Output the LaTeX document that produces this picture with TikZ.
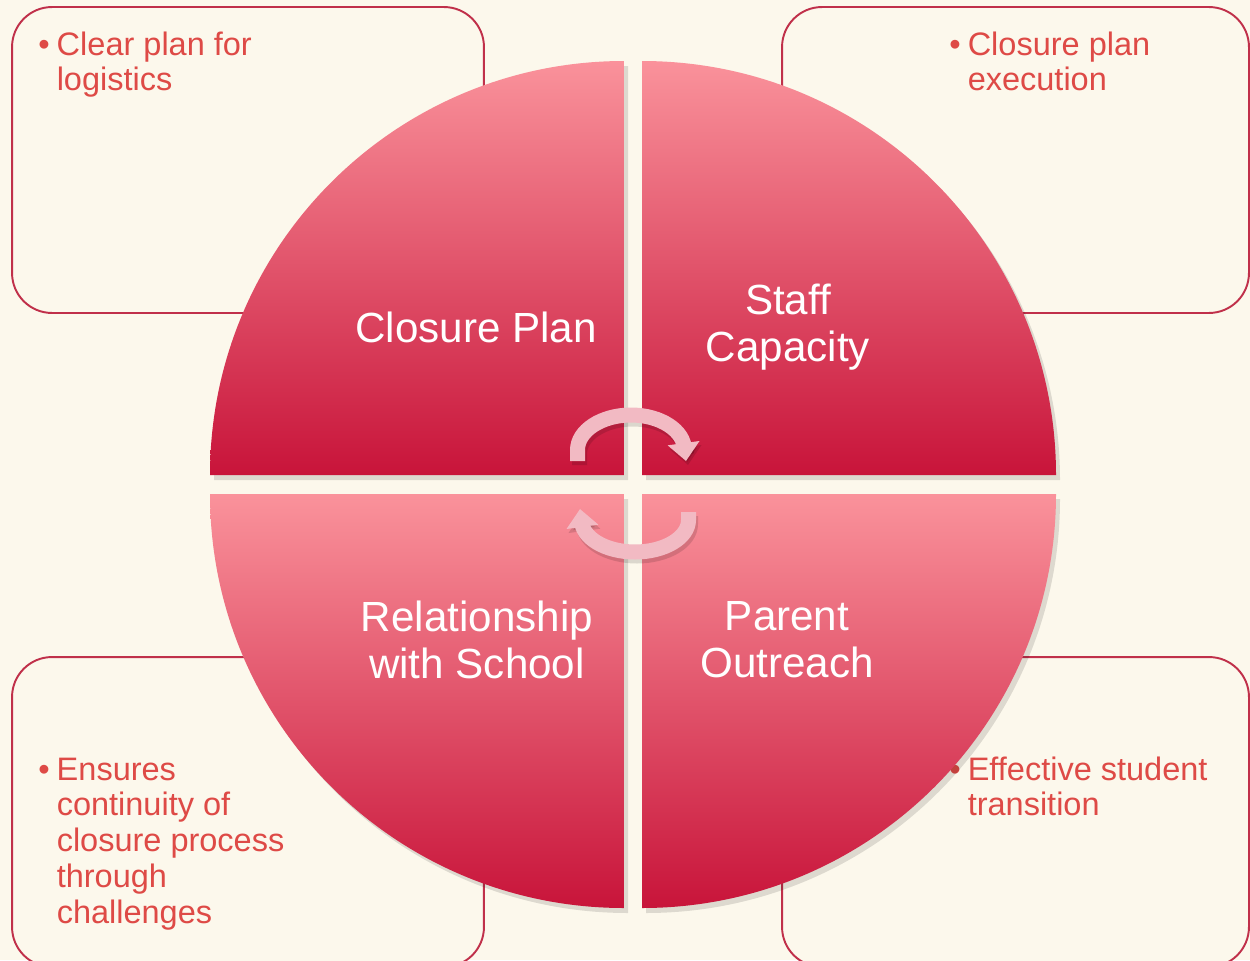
\documentclass[tikz,border=0pt]{standalone}
\usepackage{fontspec}
\setmainfont{Liberation Sans}
\usetikzlibrary{arrows.meta}
\definecolor{cream}{HTML}{FCF8EC}
\definecolor{boxline}{HTML}{C0304A}
\definecolor{notetext}{HTML}{DE4A46}
\definecolor{pietop}{HTML}{FA929B}
\definecolor{piebot}{HTML}{C8143A}
\definecolor{turncol}{HTML}{F2BAC3}

\begin{document}
\begin{tikzpicture}[x=0.02cm,y=-0.02cm,
	notebox/.style={draw=boxline,line width=1.1pt,fill=cream,rounded corners=0.8cm,inner sep=0pt},
	quarter/.style={top color=pietop,bottom color=piebot},
	piecaption/.style={text=white,align=center,font=\fontsize{24}{26.6}\selectfont},
	bulletnote/.style={text=notetext,anchor=base west,inner sep=0pt,font=\fontsize{18.5}{20.4}\selectfont},
	turnarrow/.style={line width=0.3cm,draw=turncol,-{Triangle[width=0.62cm,length=0.36cm]}},
	turnshadow/.style={turnarrow,draw=black,opacity=.13,shift={(2,4)}}]
	\useasboundingbox (0,0) rectangle (1250,960);
	\clip (0,0) rectangle (1250,960);
	\fill[cream] (0,0) rectangle (1250,960);
	% the four note boxes
	\node[notebox,minimum width=9.44cm,minimum height=6.12cm] (tlbox) at (248,160) {};
	\node[notebox,minimum width=9.34cm,minimum height=6.12cm] (trbox) at (1015.5,160) {};
	\node[notebox,minimum width=9.44cm,minimum height=6.2cm] (blbox) at (248,812) {};
	\node[notebox,minimum width=9.34cm,minimum height=6.2cm] (brbox) at (1015.5,812) {};
	\node[bulletnote] (tlnote) at (38,55) {\begin{tabular}[t]{@{}l@{\hspace{4pt}}l@{}}\textbullet & Clear plan for\\ & logistics\end{tabular}};
	\node[bulletnote] (trnote) at (949,55) {\begin{tabular}[t]{@{}l@{\hspace{4pt}}l@{}}\textbullet & Closure plan\\ & execution\end{tabular}};
	\node[bulletnote] (blnote) at (38,780) {\begin{tabular}[t]{@{}l@{\hspace{4pt}}l@{}}\textbullet & Ensures\\ & continuity of\\ & closure process\\ & through\\ & challenges\end{tabular}};
	\node[bulletnote] (brnote) at (949,780) {\begin{tabular}[t]{@{}l@{\hspace{4pt}}l@{}}\textbullet & Effective student\\ & transition\end{tabular}};
	% shadows of the pie
	\begin{scope}[shift={(4,5)}]
	\fill[black,opacity=.12] (624,475) -- (210,475) arc[start angle=180,end angle=270,radius=414] -- cycle;
	\fill[black,opacity=.12] (642,475) -- (642,61) arc[start angle=270,end angle=360,radius=414] -- cycle;
	\fill[black,opacity=.12] (624,494) -- (624,908) arc[start angle=90,end angle=180,radius=414] -- cycle;
	\fill[black,opacity=.12] (642,494) -- (1056,494) arc[start angle=0,end angle=90,radius=414] -- cycle;
	\end{scope}
	% the pie
	\shade[quarter] (624,475) -- (210,475) arc[start angle=180,end angle=270,radius=414] -- cycle;
	\shade[quarter] (642,475) -- (642,61) arc[start angle=270,end angle=360,radius=414] -- cycle;
	\shade[quarter] (624,494) -- (624,908) arc[start angle=90,end angle=180,radius=414] -- cycle;
	\shade[quarter] (642,494) -- (1056,494) arc[start angle=0,end angle=90,radius=414] -- cycle;
	\node[piecaption] (plan) at (476,327) {Closure Plan};
	\node[piecaption] (staff) at (788,327) {Staff\\Capacity};
	\node[piecaption] (school) at (477,640) {Relationship\\with School};
	\node[piecaption] (parent) at (787,640) {Parent\\Outreach};
	% turning arrows
	\draw[turnshadow] (577.5,461) -- (577.5,450) arc[start angle=180,end angle=360,x radius=53.5,y radius=35] -- (686,461);
	\draw[turnarrow] (577.5,461) -- (577.5,450) arc[start angle=180,end angle=360,x radius=53.5,y radius=35] -- (686,461);
	\draw[turnshadow] (688.5,512) -- (688.5,520) arc[start angle=0,end angle=180,x radius=53.5,y radius=32] -- (580,509);
	\draw[turnarrow] (688.5,512) -- (688.5,520) arc[start angle=0,end angle=180,x radius=53.5,y radius=32] -- (580,509);
\end{tikzpicture}
\end{document}
